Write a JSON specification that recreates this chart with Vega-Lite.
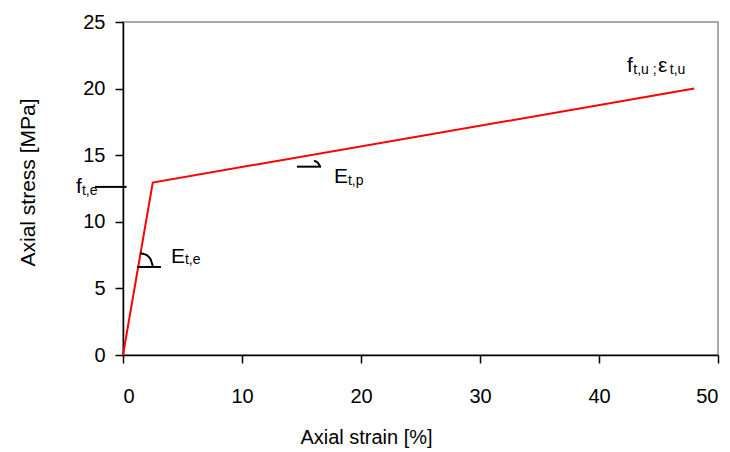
{
  "$schema": "https://vega.github.io/schema/vega-lite/v6.json",
  "width": 595,
  "height": 333,
  "autosize": "none",
  "padding": {"left": 123, "top": 22, "right": 12, "bottom": 97},
  "background": "white",
  "config": {
    "font": "Liberation Sans, Arial, sans-serif",
    "view": {"stroke": "#8c8c8c", "strokeWidth": 1.5},
    "axis": {
      "grid": false,
      "domainColor": "black",
      "domainWidth": 1.5,
      "tickColor": "black",
      "tickWidth": 1.5,
      "tickSize": 8,
      "labelColor": "black",
      "labelFontSize": 20,
      "titleColor": "black",
      "titleFontWeight": "normal"
    }
  },
  "datasets": {
    "curve": [
      {"strain": 0, "stress": 0},
      {"strain": 2.5, "stress": 12.95},
      {"strain": 48, "stress": 20}
    ],
    "marks": [
      {"id": "fte", "strain": -2.35, "stress": 12.62},
      {"id": "fte", "strain": 0.3, "stress": 12.62},
      {"id": "Ete", "strain": 1.18, "stress": 6.61},
      {"id": "Ete", "strain": 3.19, "stress": 6.61},
      {"id": "Etp", "strain": 14.62, "stress": 14.14},
      {"id": "Etp", "strain": 16.64, "stress": 14.14}
    ],
    "arcs": [
      {"id": "a1", "k": 1, "strain": 1.43, "stress": 7.64},
      {"id": "a1", "k": 2, "strain": 1.85, "stress": 7.56},
      {"id": "a1", "k": 3, "strain": 2.27, "stress": 7.26},
      {"id": "a1", "k": 4, "strain": 2.5, "stress": 6.68},
      {"id": "a2", "k": 1, "strain": 16.05, "stress": 14.59},
      {"id": "a2", "k": 2, "strain": 16.3, "stress": 14.49},
      {"id": "a2", "k": 3, "strain": 16.47, "stress": 14.3},
      {"id": "a2", "k": 4, "strain": 16.55, "stress": 14.15}
    ],
    "mainText": [
      {"t": "f", "strain": -3.95, "stress": 12.16},
      {"t": "E", "strain": 4.03, "stress": 6.94},
      {"t": "E", "strain": 17.73, "stress": 12.91},
      {"t": "f", "strain": 42.35, "stress": 21.27},
      {"t": "ε", "strain": 44.96, "stress": 21.22}
    ],
    "subText": [
      {"t": "t,e", "strain": -3.45, "stress": 12.01},
      {"t": "t,e", "strain": 5.2, "stress": 6.83},
      {"t": "t,p", "strain": 18.9, "stress": 12.76},
      {"t": "t,u ;", "strain": 42.88, "stress": 21.13},
      {"t": "t,u", "strain": 45.95, "stress": 21.1}
    ]
  },
  "layer": [
    {
      "data": {"name": "curve"},
      "mark": {"type": "line", "color": "#ff0000", "strokeWidth": 2},
      "encoding": {
        "x": {
          "field": "strain", "type": "quantitative",
          "scale": {"domain": [0, 50], "nice": false},
          "axis": {
            "values": [0, 10, 20, 30, 40, 50],
            "title": "Axial strain [%]",
            "titleFontSize": 20,
            "labelPadding": 23,
            "titleX": 243, "titleY": 88,
            "titleBaseline": "alphabetic", "titleAlign": "center"
          }
        },
        "y": {
          "field": "stress", "type": "quantitative",
          "scale": {"domain": [0, 25], "nice": false},
          "axis": {
            "values": [0, 5, 10, 15, 20, 25],
            "title": "Axial stress [MPa]",
            "titleFontSize": 21,
            "labelPadding": 10,
            "titleX": -89, "titleY": 160,
            "titleAngle": -90,
            "titleBaseline": "alphabetic", "titleAlign": "center"
          }
        }
      }
    },
    {
      "data": {"name": "marks"},
      "mark": {"type": "line", "color": "black", "strokeWidth": 2},
      "encoding": {
        "x": {"field": "strain", "type": "quantitative"},
        "y": {"field": "stress", "type": "quantitative"},
        "detail": {"field": "id"}
      }
    },
    {
      "data": {"name": "arcs"},
      "mark": {"type": "line", "color": "black", "strokeWidth": 2, "interpolate": "monotone"},
      "encoding": {
        "x": {"field": "strain", "type": "quantitative"},
        "y": {"field": "stress", "type": "quantitative"},
        "detail": {"field": "id"},
        "order": {"field": "k"}
      }
    },
    {
      "data": {"name": "mainText"},
      "mark": {"type": "text", "fontSize": 21, "align": "left", "baseline": "alphabetic", "color": "black"},
      "encoding": {
        "x": {"field": "strain", "type": "quantitative"},
        "y": {"field": "stress", "type": "quantitative"},
        "text": {"field": "t"}
      }
    },
    {
      "data": {"name": "subText"},
      "mark": {"type": "text", "fontSize": 14, "align": "left", "baseline": "alphabetic", "color": "black"},
      "encoding": {
        "x": {"field": "strain", "type": "quantitative"},
        "y": {"field": "stress", "type": "quantitative"},
        "text": {"field": "t"}
      }
    }
  ]
}
